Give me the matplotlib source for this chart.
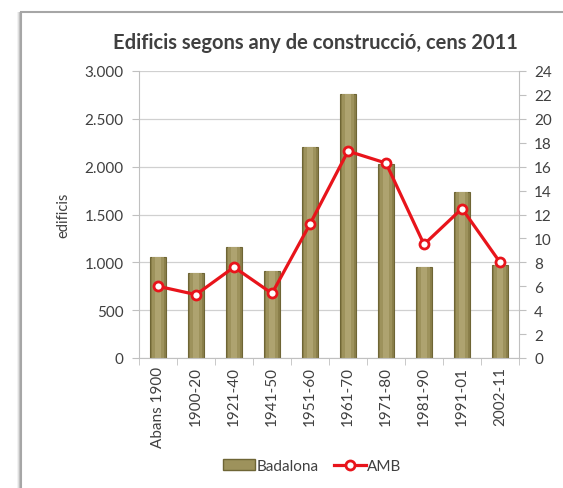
import numpy as np
import matplotlib.pyplot as plt
from matplotlib.patches import Rectangle
from matplotlib.lines import Line2D

periodes = ['Abans 1900', '1900-20', '1921-40', '1941-50', '1951-60',
            '1961-70', '1971-80', '1981-90', '1991-01', '2002-11']
badalona = [1055, 890, 1160, 910, 2205, 2760, 2025, 950, 1735, 970]
amb = [6.0, 5.3, 7.6, 5.4, 11.2, 17.3, 16.3, 9.5, 12.5, 8.0]

plt.rcParams['font.family'] = ['Lato', 'DejaVu Sans']
txt = '#404040'

W, H = 563, 489
fig = plt.figure(figsize=(W/100, H/100), dpi=100)

# marc del grafic amb ombra
for k, a in enumerate([0.05, 0.08, 0.12]):
    fig.patches.append(Rectangle((17+k, -10), 3, H-3, transform=None, zorder=-5,
                                 facecolor='black', alpha=a, edgecolor='none'))
fig.patches.append(Rectangle((20.5, -10), W+20, H-13+10, transform=None, zorder=-4,
                             facecolor='white', edgecolor='#a6a6a6', lw=1.5))

ax = fig.add_axes([139/W, 1-359/H, (519-139)/W, (359-72)/H])
ax.patch.set_alpha(0)
x = np.arange(len(periodes))
# barres amb efecte cilindre
ax.bar(x, badalona, width=0.4, color='#8a7f4a', edgecolor='#6e6535', lw=0.8, zorder=2)
ax.bar(x, badalona, width=0.3, color='#9d925c', edgecolor='none', zorder=2)
ax.bar(x, badalona, width=0.16, color='#aea370', edgecolor='none', zorder=2)

ax.set_xlim(-0.5, len(periodes)-0.5)
ax.set_ylim(0, 3000)
ax.set_yticks(np.arange(0, 3001, 500))
ax.set_yticklabels(['0', '500', '1.000', '1.500', '2.000', '2.500', '3.000'])
ax.grid(axis='y', color='#d0d0d0', lw=0.9, zorder=0)
ax.set_axisbelow(True)
ax.set_xticks(x)
ax.set_xticklabels(periodes, rotation=90)
ax.set_xticks(np.arange(-0.5, len(periodes)), minor=True)
ax.tick_params(axis='x', which='major', length=0, pad=6, labelsize=11, labelcolor=txt)
ax.tick_params(axis='x', which='minor', length=5, color='#c0c0c0')
ax.tick_params(axis='y', length=5, color='#c0c0c0', labelsize=11, labelcolor=txt, pad=6)
ax.set_ylabel('edificis', fontsize=10.5, color=txt, labelpad=10)
for s in ['top', 'right']:
    ax.spines[s].set_visible(False)
for s in ['left', 'bottom']:
    ax.spines[s].set_color('#c0c0c0')

ax2 = ax.twinx()
ax2.plot(x, amb, color='#e8141b', lw=2.3, marker='o', ms=6.5,
         mfc='white', mec='#e8141b', mew=2, zorder=5)
ax2.set_ylim(0, 24)
ax2.set_yticks(np.arange(0, 25, 2))
ax2.tick_params(axis='y', length=5, color='#c0c0c0', labelsize=11, labelcolor=txt, pad=6)
for s in ['top', 'left', 'bottom']:
    ax2.spines[s].set_visible(False)
ax2.spines['right'].set_color('#c0c0c0')

fig.text(315/W, 1-43/H, 'Edificis segons any de construcció, cens 2011',
         ha='center', va='center', fontsize=14.5, fontweight='bold', color=txt)

handles = [Rectangle((0, 0), 1, 1, facecolor='#9d925c', edgecolor='#6e6535'),
           Line2D([], [], color='#e8141b', lw=2.3, marker='o', ms=6.5,
                  mfc='white', mec='#e8141b', mew=2)]
fig.legend(handles, ['Badalona', 'AMB'], loc='center', bbox_to_anchor=(312/W, 1-467/H),
           ncol=2, frameon=False, fontsize=11, handlelength=2.1, handletextpad=0.1,
           columnspacing=1.0, labelcolor=txt)

fig.savefig('out.png', dpi=100)
